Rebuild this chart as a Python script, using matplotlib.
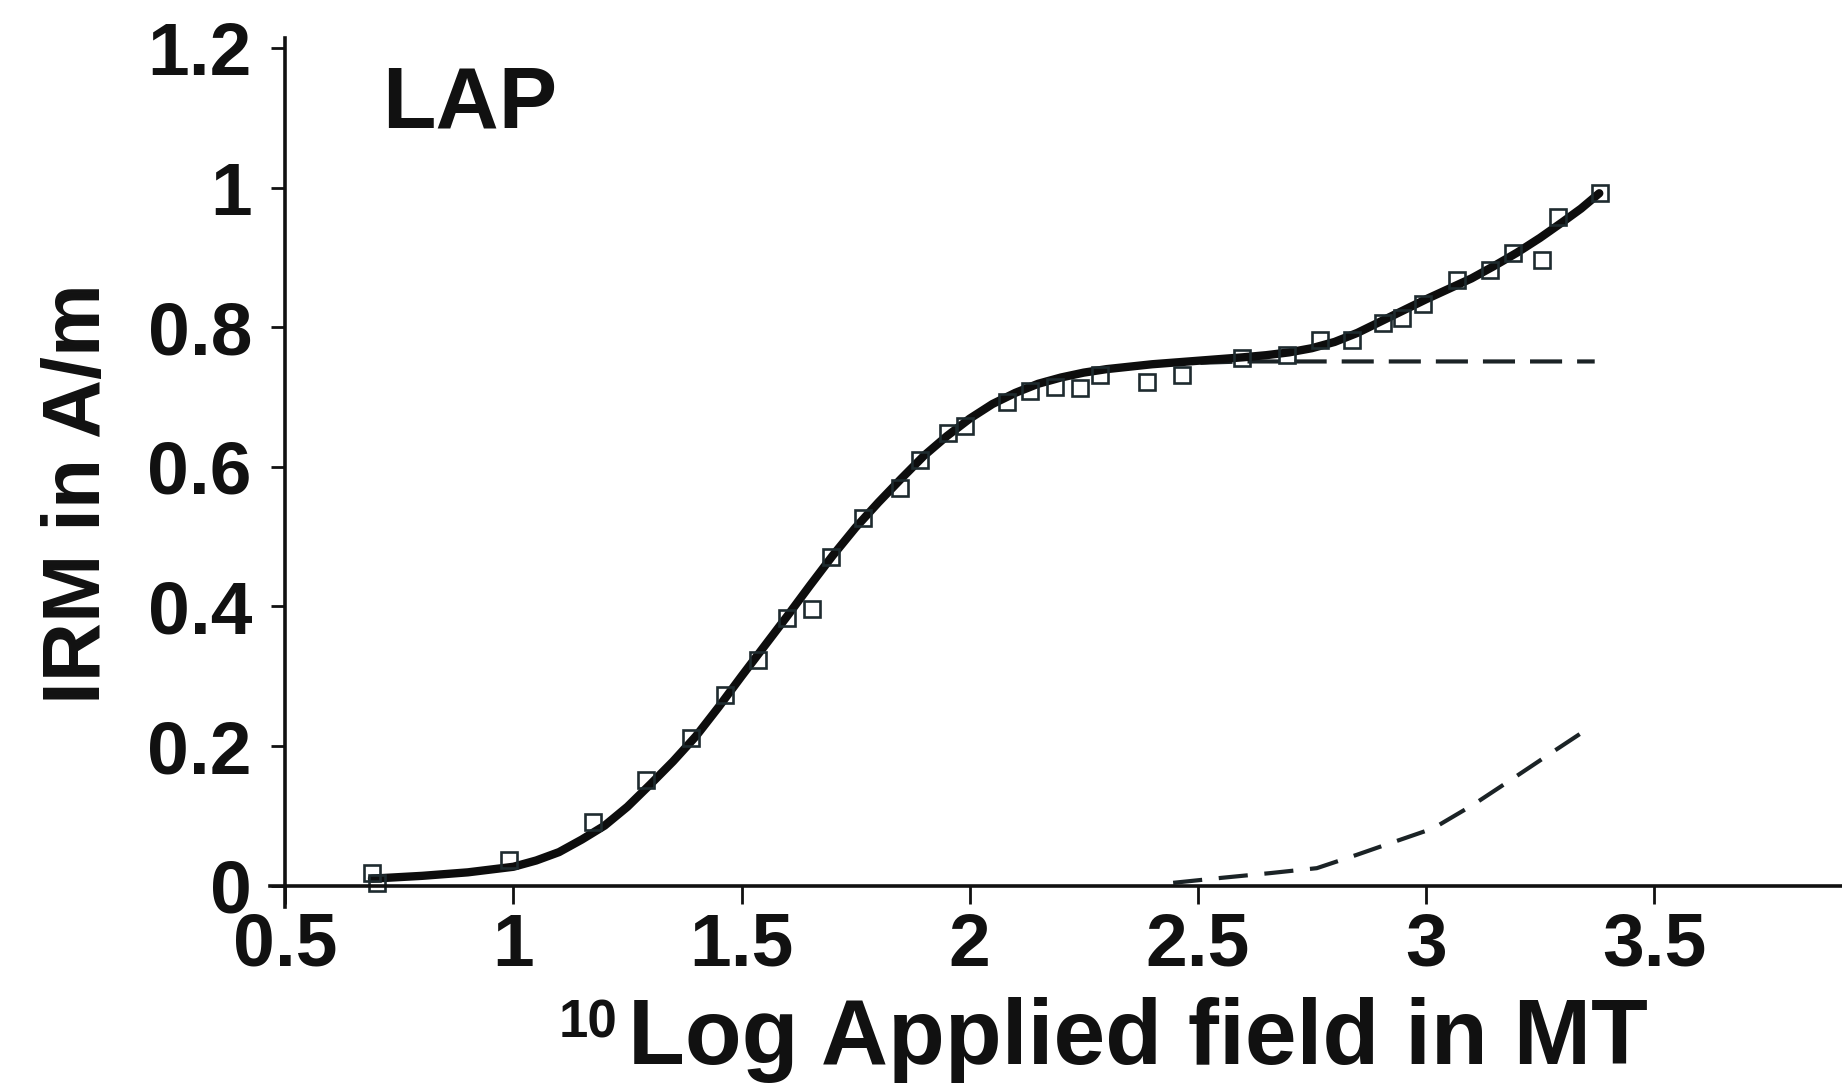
import numpy as np
import matplotlib.pyplot as plt

plt.rcParams['font.family'] = ['Liberation Sans', 'DejaVu Sans']
plt.rcParams['font.weight'] = 'bold'

# measured IRM acquisition (open squares)
x_meas = [0.69, 0.70, 0.99, 1.175, 1.29, 1.39, 1.464, 1.537, 1.599, 1.654,
          1.697, 1.767, 1.847, 1.891, 1.953, 1.99, 2.081, 2.132, 2.187, 2.242,
          2.286, 2.388, 2.465, 2.596, 2.695, 2.768, 2.837, 2.907, 2.947, 2.994,
          3.068, 3.14, 3.191, 3.254, 3.29, 3.382]
y_meas = [0.018, 0.004, 0.037, 0.091, 0.151, 0.211, 0.273, 0.323, 0.383, 0.396,
          0.471, 0.526, 0.569, 0.610, 0.648, 0.658, 0.693, 0.708, 0.715, 0.713,
          0.732, 0.722, 0.732, 0.756, 0.760, 0.782, 0.782, 0.806, 0.813, 0.834,
          0.868, 0.882, 0.906, 0.896, 0.958, 0.992]

# total fit (solid)
x_fit = [0.69, 0.8, 0.9, 1.0, 1.05, 1.1, 1.15, 1.2, 1.25, 1.3, 1.35, 1.4, 1.45,
         1.5, 1.55, 1.6, 1.65, 1.7, 1.75, 1.8, 1.85, 1.9, 1.95, 2.0, 2.05, 2.1,
         2.15, 2.2, 2.25, 2.3, 2.4, 2.5, 2.6, 2.65, 2.7, 2.75, 2.8, 2.85, 2.9,
         2.95, 3.0, 3.05, 3.1, 3.15, 3.2, 3.25, 3.3, 3.34, 3.38]
y_fit = [0.010, 0.014, 0.019, 0.027, 0.036, 0.048, 0.066, 0.086, 0.113, 0.145,
         0.178, 0.214, 0.256, 0.300, 0.343, 0.386, 0.430, 0.473, 0.513, 0.549,
         0.583, 0.616, 0.644, 0.669, 0.690, 0.706, 0.719, 0.728, 0.735, 0.740,
         0.747, 0.752, 0.757, 0.760, 0.764, 0.770, 0.779, 0.792, 0.808, 0.824,
         0.840, 0.855, 0.870, 0.888, 0.907, 0.928, 0.951, 0.970, 0.992]

# component 1 (dashed, saturating)
x_comp1 = [2.3, 2.4, 2.5, 2.6, 2.8, 3.0, 3.2, 3.37]
y_comp1 = [0.740, 0.746, 0.749, 0.751, 0.751, 0.751, 0.751, 0.751]

# component 2 (dashed, high coercivity)
x_comp2 = [2.446, 2.55, 2.66, 2.761, 2.848, 2.914, 3.016, 3.104, 3.192, 3.279, 3.367]
y_comp2 = [0.004, 0.011, 0.018, 0.025, 0.044, 0.059, 0.082, 0.116, 0.154, 0.192, 0.230]

x_ticks = [0.5, 1, 1.5, 2, 2.5, 3, 3.5]
x_tick_labels = ["0.5", "1", "1.5", "2", "2.5", "3", "3.5"]
y_ticks = [0, 0.2, 0.4, 0.6, 0.8, 1.0, 1.2]
y_tick_labels = ["0", "0.2", "0.4", "0.6", "0.8", "1", "1.2"]

fig = plt.figure(figsize=(18.42, 10.84), dpi=100)
ax = fig.add_axes([0.1467, 0.1637, 0.8533, 0.8016])

ax.plot(x_comp1, y_comp1, color="#1b2326", linewidth=3, dashes=(7.7, 3.6))
ax.plot(x_comp2, y_comp2, color="#1b2326", linewidth=3, dashes=(7.0, 4.0))
ax.plot(x_fit, y_fit, color="#0d0d0d", linewidth=6, solid_capstyle="round",
        solid_joinstyle="round")
ax.plot(x_meas, y_meas, linestyle="none", marker="s", markersize=11,
        markerfacecolor="none", markeredgecolor="#1e2b2f", markeredgewidth=1.9)

ax.set_xlim(0.467, 3.912)
ax.set_ylim(-0.03, 1.215)

ax.spines["left"].set_position(("data", 0.5))
ax.spines["bottom"].set_position(("data", 0))
ax.spines["top"].set_visible(False)
ax.spines["right"].set_visible(False)
for s in ["left", "bottom"]:
    ax.spines[s].set_linewidth(2.6)
    ax.spines[s].set_color("#111111")

ax.set_xticks(x_ticks)
ax.set_xticklabels(x_tick_labels)
ax.set_yticks(y_ticks)
ax.set_yticklabels(y_tick_labels)
ax.tick_params(axis="x", direction="out", length=13, width=2, pad=6,
               labelsize=54, colors="#111111")
ax.tick_params(axis="y", direction="out", length=10, width=2, pad=14,
               labelsize=54, colors="#111111")
for lab in ax.get_xticklabels() + ax.get_yticklabels():
    lab.set_fontweight("bold")

fig.text(382 / 1842, 0.882, "LAP", fontsize=63, fontweight="bold",
         color="#111111")

fig.text(559 / 1842, 0.043, "10", fontsize=38, fontweight="bold",
         color="#111111", ha="left", va="baseline")
fig.text(628 / 1842, 0.018, "Log Applied field in MT", fontsize=67,
         fontweight="bold", color="#111111", ha="left", va="baseline")
fig.text(100 / 1842, 0.5447, "IRM in A/m", fontsize=59, fontweight="bold",
         color="#111111", rotation=90, rotation_mode="anchor",
         ha="center", va="baseline")

fig.savefig("out.png", dpi=100)
